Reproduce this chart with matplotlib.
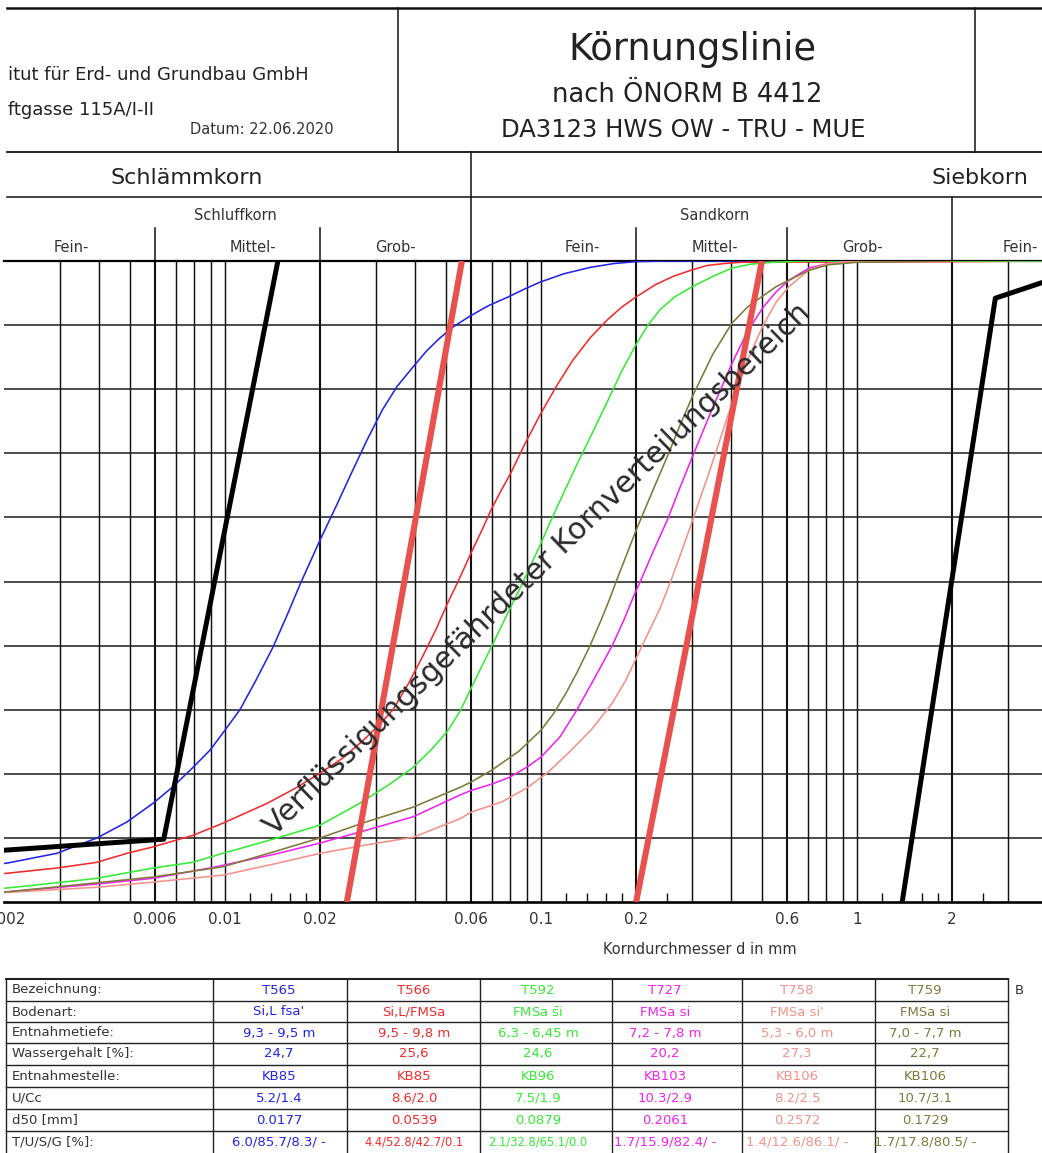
import numpy as np
import matplotlib.pyplot as plt
from matplotlib.ticker import NullFormatter

plt.rcParams['font.family'] = ['DejaVu Sans']
plt.rcParams['mathtext.fontset'] = 'dejavusans'

W, H = 1042, 1153

# Kornverteilungen: d [mm] / Siebdurchgang [%]
t565_d = [0.0018, 0.00206, 0.00294, 0.00394, 0.0049, 0.00592, 0.00685, 0.00792, 0.00897, 0.00986,
          0.01115, 0.0125, 0.0142, 0.0158, 0.01726, 0.020, 0.0225, 0.0249, 0.0281, 0.0315, 0.035,
          0.0394, 0.0435, 0.0479, 0.053, 0.0596, 0.068, 0.078, 0.0885, 0.0993, 0.118, 0.143, 0.17,
          0.2, 0.25, 2.0]
t565_p = [5.7, 6.1, 7.6, 10.0, 12.5, 15.4, 18.0, 21.0, 23.7, 26.4,
          30.0, 34.5, 39.8, 45.0, 49.5, 56.5, 61.8, 66.5, 72.0, 76.8, 80.4,
          83.5, 86.0, 88.0, 89.8, 91.4, 93.0, 94.3, 95.6, 96.7, 98.0, 99.0, 99.6,
          99.9, 100.0, 100.0]

t566_d = [0.0018, 0.00206, 0.00294, 0.00394, 0.0049, 0.00592, 0.00792, 0.00986, 0.0136, 0.0165,
          0.020, 0.0235, 0.0275, 0.031, 0.034, 0.038, 0.0424, 0.0465, 0.0505, 0.055, 0.060, 0.065,
          0.070, 0.075, 0.0804, 0.089, 0.0993, 0.112, 0.126, 0.143, 0.162, 0.18, 0.2, 0.23, 0.262,
          0.3, 0.335, 0.38, 0.427, 2.0, 4.0]
t566_p = [4.2, 4.5, 5.3, 6.2, 7.6, 8.6, 10.4, 12.3, 15.4, 17.6,
          20.1, 22.4, 25.3, 27.8, 30.0, 34.0, 38.5, 42.5, 46.5, 50.3, 54.4, 58.0,
          61.5, 64.3, 67.0, 71.5, 76.0, 80.5, 84.5, 88.0, 90.8, 92.8, 94.4, 96.3, 97.6,
          98.6, 99.3, 99.6, 99.8, 99.9, 100.0]

t592_d = [0.0018, 0.00206, 0.00294, 0.00394, 0.00592, 0.00792, 0.00986, 0.0142, 0.020, 0.0267,
          0.033, 0.0394, 0.045, 0.0505, 0.0555, 0.060, 0.065, 0.070, 0.078, 0.0879, 0.1, 0.11,
          0.121, 0.13, 0.140, 0.15, 0.162, 0.18, 0.2, 0.218, 0.238, 0.265, 0.301, 0.35, 0.402,
          0.46, 0.542, 0.7, 2.0, 4.0]
t592_p = [2.0, 2.2, 3.0, 3.7, 5.3, 6.2, 7.6, 9.8, 12.0, 15.4,
          18.3, 21.0, 23.8, 26.6, 29.8, 33.3, 36.8, 40.0, 44.8, 50.0, 56.0, 60.6,
          65.0, 68.3, 71.5, 74.6, 78.0, 82.8, 87.0, 90.0, 92.4, 94.4, 96.0, 97.6, 98.9,
          99.5, 99.8, 100.0, 100.0, 100.0]

t727_d = [0.0018, 0.00206, 0.00394, 0.00592, 0.00897, 0.0142, 0.020, 0.028, 0.0394, 0.0555,
          0.060, 0.07, 0.0798, 0.09, 0.1, 0.115, 0.13, 0.148, 0.168, 0.183, 0.196, 0.2061,
          0.228, 0.251, 0.275, 0.301, 0.35, 0.402, 0.45, 0.505, 0.555, 0.609, 0.705, 0.809,
          0.95, 2.0]
t727_p = [1.5, 1.6, 2.8, 3.7, 5.3, 7.4, 9.2, 11.2, 13.3, 16.7,
          17.4, 18.4, 19.5, 21.0, 22.6, 25.8, 30.0, 35.0, 40.0, 44.0, 47.6, 50.0,
          55.0, 59.6, 64.6, 69.4, 77.2, 84.0, 89.0, 92.8, 95.2, 97.0, 98.9, 99.6,
          99.9, 100.0]

t758_d = [0.0018, 0.00206, 0.00394, 0.00592, 0.00986, 0.0142, 0.020, 0.028, 0.0394, 0.0555,
          0.060, 0.075, 0.0903, 0.105, 0.1236, 0.145, 0.168, 0.185, 0.2, 0.22, 0.238, 0.2572,
          0.28, 0.301, 0.335, 0.365, 0.402, 0.45, 0.505, 0.555, 0.609, 0.705, 0.809, 0.95, 2.0]
t758_p = [1.4, 1.5, 2.3, 3.1, 4.2, 5.9, 7.6, 8.9, 10.1, 13.0,
          14.0, 15.6, 17.8, 20.2, 23.5, 27.0, 31.0, 34.5, 38.0, 42.3, 45.8, 50.0,
          55.0, 59.4, 66.0, 71.5, 77.8, 84.5, 90.0, 93.6, 96.0, 98.6, 99.6, 99.9, 100.0]

t759_d = [0.0018, 0.00206, 0.00394, 0.00592, 0.00986, 0.0142, 0.020, 0.028, 0.0394, 0.0555,
          0.060, 0.070, 0.085, 0.1, 0.11, 0.12, 0.13, 0.143, 0.155, 0.165, 0.1729, 0.186,
          0.2, 0.225, 0.251, 0.275, 0.301, 0.35, 0.402, 0.45, 0.505, 0.555, 0.609, 0.7, 0.809,
          1.0, 2.0]
t759_p = [1.5, 1.6, 3.0, 3.9, 5.5, 7.8, 10.0, 12.5, 14.8, 17.9,
          18.7, 20.6, 23.5, 26.8, 29.5, 32.6, 35.8, 40.0, 44.0, 47.3, 50.0, 54.0,
          58.0, 64.0, 69.5, 74.3, 78.8, 85.5, 90.3, 92.8, 94.6, 96.0, 97.0, 98.5, 99.4,
          99.8, 100.0]

# Grenzlinien
limit_left_d = [0.0019, 0.0064, 0.0147]
limit_left_p = [8.0, 9.8, 100.0]
limit_right_d = [1.39, 2.74, 4.0]
limit_right_p = [0.0, 94.2, 96.9]
liq_a_d = [0.0243, 0.0562]
liq_a_p = [0.0, 100.0]
liq_b_d = [0.2, 0.5]
liq_b_p = [0.0, 100.0]

# Tabelle
samples = ['T565', 'T566', 'T592', 'T727', 'T758', 'T759']
bodenart = ["Si,L fsa'", 'Si,L/FMSa', r'FMSa $\bar{\mathrm{s}}$i', 'FMSa si', "FMSa si'", 'FMSa si']
tiefe = ['9,3 - 9,5 m', '9,5 - 9,8 m', '6,3 - 6,45 m', '7,2 - 7,8 m', '5,3 - 6,0 m', '7,0 - 7,7 m']
wasser = ['24,7', '25,6', '24,6', '20,2', '27,3', '22,7']
stelle = ['KB85', 'KB85', 'KB96', 'KB103', 'KB106', 'KB106']
u_cc = ['5.2/1.4', '8.6/2.0', '7.5/1.9', '10.3/2.9', '8.2/2.5', '10.7/3.1']
d50 = ['0.0177', '0.0539', '0.0879', '0.2061', '0.2572', '0.1729']
tusg = ['6.0/85.7/8.3/ -', '4.4/52.8/42.7/0.1', '2.1/32.8/65.1/0.0',
        '1.7/15.9/82.4/ -', '1.4/12.6/86.1/ -', '1.7/17.8/80.5/ -']
row_labels = ['Bezeichnung:', 'Bodenart:', 'Entnahmetiefe:', 'Wassergehalt [%]:',
              'Entnahmestelle:', 'U/Cc', 'd50 [mm]', 'T/U/S/G [%]:']

colors = ['#2424e6', '#f22c2c', '#36ea36', '#ef24ef', '#f4928a', '#7e7a3a']

tick_vals = [0.002, 0.006, 0.01, 0.02, 0.06, 0.1, 0.2, 0.6, 1, 2]
tick_labels = ['0.002', '0.006', '0.01', '0.02', '0.06', '0.1', '0.2', '0.6', '1', '2']
small_ticks = [0.012, 0.014, 0.016, 0.018, 0.12, 0.14, 0.16, 0.18, 0.25,
               1.2, 1.4, 1.6, 1.8, 2.5, 12, 14, 16, 18, 25]
bounds = [0.002, 0.006, 0.02, 0.06, 0.2, 0.6, 2, 6, 20, 60]

fig = plt.figure(figsize=(W / 100, H / 100), dpi=100)

ov = fig.add_axes([0, 0, 1, 1])
ov.set_xlim(0, W)
ov.set_ylim(H, 0)
ov.axis('off')

# Diagramm: 0.002 mm bei x=4 px, 316 px pro Dekade, 0..100 % zwischen y=902 und y=261
x0, x1 = 541 - 316 * np.log10(50), 541 + 316 * 3
ax = fig.add_axes([x0 / W, (H - 902) / H, (x1 - x0) / W, 641 / H])
ax.patch.set_alpha(0)
ax.set_xscale('log')
ax.set_xlim(0.002, 100)
ax.set_ylim(0, 100)

for n in range(-3, 2):
    for k in range(1, 10):
        v = k * 10.0 ** n
        if v <= 0.002:
            continue
        heavy = any(np.isclose(v, b) for b in bounds)
        ax.axvline(v, color='#111111', lw=1.5 if heavy else 1.05, zorder=1)
for v in range(10, 100, 10):
    ax.axhline(v, color='#1a1a1a', lw=1.1, zorder=1)

ax.set_xticks(tick_vals, tick_labels)
ax.set_xticks(small_ticks, minor=True)
ax.xaxis.set_minor_formatter(NullFormatter())
ax.tick_params(axis='x', which='major', length=0, pad=7, labelsize=11, labelcolor='#333333')
ax.tick_params(axis='x', which='minor', direction='in', length=6.5, width=1.0, color='#111111')
ax.set_yticks([])
ax.spines['left'].set_visible(False)
ax.spines['right'].set_visible(False)
ax.spines['top'].set_linewidth(1.6)
ax.spines['bottom'].set_linewidth(1.9)

curves = [(t565_d, t565_p), (t566_d, t566_p), (t592_d, t592_p),
          (t727_d, t727_p), (t758_d, t758_p), (t759_d, t759_p)]
for (d, p), c in zip(curves, colors):
    ax.plot(d, p, color=c, lw=1.15, zorder=3, solid_joinstyle='round')

ax.plot(liq_a_d, liq_a_p, color='#e9514f', lw=4.4, zorder=4, solid_capstyle='butt')
ax.plot(liq_b_d, liq_b_p, color='#e9514f', lw=4.4, zorder=4, solid_capstyle='butt')
ax.plot(limit_left_d, limit_left_p, color='black', lw=3.6, zorder=4)
ax.plot(limit_right_d, limit_right_p, color='black', lw=3.6, zorder=4)

ax.text(0.0971, 51.8, 'Verflüssigungsgefährdeter Kornverteilungsbereich', rotation=44.2,
        rotation_mode='anchor', ha='center', va='center', fontsize=21.5, color='#2a2a2a', zorder=5)

ov.text(700, 950, 'Korndurchmesser d in mm', ha='center', va='center', fontsize=10.5, color='#333333')

# Kopf: Fraktionsgrenzen
tr = ax.get_xaxis_transform()
ax.plot([0.06, 0.06], [1.0, (902 - 152) / 641], transform=tr, clip_on=False, color='#111111', lw=1.1)
ax.plot([2, 2], [1.0, (902 - 197) / 641], transform=tr, clip_on=False, color='#111111', lw=1.1)
for v in [0.006, 0.02, 0.2, 0.6, 6, 20]:
    ax.plot([v, v], [1.0, (902 - 228) / 641], transform=tr, clip_on=False, color='#111111', lw=1.1)

ov.plot([7, W], [8, 8], color='#111111', lw=1.8)
ov.plot([398, 398], [8, 152], color='#111111', lw=1.1)
ov.plot([975, 975], [8, 152], color='#111111', lw=1.1)
ov.plot([7, W], [152, 152], color='#111111', lw=1.3)
ov.plot([7, W], [197, 197], color='#111111', lw=1.1)

ov.text(8, 75, 'itut für Erd- und Grundbau GmbH', ha='left', va='center', fontsize=13, color='#222222')
ov.text(8, 110, 'ftgasse 115A/I-II', ha='left', va='center', fontsize=13, color='#222222')
ov.text(190, 129, 'Datum: 22.06.2020', ha='left', va='center', fontsize=10.5, color='#333333')
ov.text(692, 50, 'Körnungslinie', ha='center', va='center', fontsize=26.5, color='#222222')
ov.text(687, 95, 'nach ÖNORM B 4412', ha='center', va='center', fontsize=18.5, color='#222222')
ov.text(683, 130, 'DA3123 HWS OW - TRU - MUE', ha='center', va='center', fontsize=17.5, color='#222222')
ov.text(187, 178, 'Schlämmkorn', ha='center', va='center', fontsize=16, color='#222222')
ov.text(980, 178, 'Siebkorn', ha='center', va='center', fontsize=16, color='#222222')
ov.text(235, 216, 'Schluffkorn', ha='center', va='center', fontsize=10.5, color='#333333')
ov.text(715, 216, 'Sandkorn', ha='center', va='center', fontsize=10.5, color='#333333')
for xc, lab in zip([71, 253, 395, 582, 715, 862], ['Fein-', 'Mittel-', 'Grob-', 'Fein-', 'Mittel-', 'Grob-']):
    ov.text(xc, 247, lab, ha='center', va='center', fontsize=10.5, color='#333333')
ov.text(1003, 247, 'Fein-', ha='left', va='center', fontsize=10.5, color='#333333')

# Tabelle
row_lines = [979, 1001, 1022, 1043, 1065, 1087, 1109, 1131]
col_lines = [6, 213, 347, 480, 612, 742, 875, 1008]
for i, y in enumerate(row_lines):
    ov.plot([6, 1008], [y, y], color='#222222', lw=1.5 if i == 0 else 1.0)
for x in col_lines:
    ov.plot([x, x], [979, H], color='#222222', lw=1.0)

col_text_x = [279, 414, 538, 665, 797, 925]
rows = [samples, bodenart, tiefe, wasser, stelle, u_cc, d50, tusg]
for i, (lab, vals) in enumerate(zip(row_labels, rows)):
    yc = row_lines[i] + 11
    ov.text(12, yc, lab, ha='left', va='center', fontsize=9.5, color='#333333')
    for j, (v, c) in enumerate(zip(vals, colors)):
        fs = 8.3 if (i == 7 and j in (1, 2)) else 9.5
        ov.text(col_text_x[j], yc, v, ha='center', va='center', fontsize=fs, color=c)
ov.text(1015, 990, 'B', ha='left', va='center', fontsize=9.5, color='#333333')

fig.savefig('out.png', dpi=100)
